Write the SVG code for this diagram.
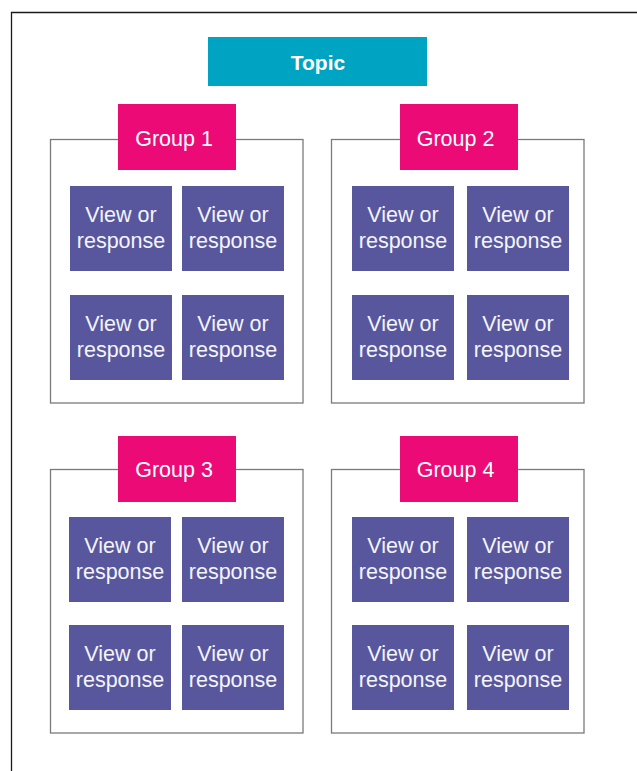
<svg xmlns="http://www.w3.org/2000/svg" width="637" height="771" viewBox="0 0 637 771">
  <style>
    .frame { fill: none; stroke: #1a1a1a; stroke-width: 1.3; }
    .grpbox { fill: #ffffff; stroke: #7a7a7a; stroke-width: 1.3; }
    .topic { fill: #00a4c3; }
    .head { fill: #ec0a77; }
    .card { fill: #58579e; }
    text { font-family: "Liberation Sans", Arial, Helvetica, sans-serif; fill: #f4f4fa; text-anchor: middle; }
    .t-topic { font-size: 21px; font-weight: bold; fill: #ffffff; }
    .t-head { font-size: 21.5px; fill: #ffffff; }
    .t-card { font-size: 21.5px; }
  </style>
  <defs>
    <g id="card">
      <rect class="card" x="0" y="0" width="102" height="85"/>
      <text class="t-card" x="51" y="36">View or</text>
      <text class="t-card" x="51" y="62">response</text>
    </g>
  </defs>

  <!-- page frame -->
  <path class="frame" d="M11.5,771 V12.5 H637"/>

  <g id="topic">
    <rect class="topic" x="208" y="37" width="219" height="49"/>
    <text class="t-topic" x="318" y="70">Topic</text>
  </g>

  <g id="connectors"/>

  <g id="group1">
    <rect class="grpbox" x="50.5" y="139.5" width="252.5" height="263.5"/>
    <rect class="head" x="118" y="104" width="118" height="66"/>
    <text class="t-head" x="174" y="145.5">Group 1</text>
    <use href="#card" x="70" y="186"/>
    <use href="#card" x="182" y="186"/>
    <use href="#card" x="70" y="295"/>
    <use href="#card" x="182" y="295"/>
  </g>

  <g id="group2">
    <rect class="grpbox" x="331.5" y="139.5" width="252.5" height="263.5"/>
    <rect class="head" x="400" y="104" width="118" height="66"/>
    <text class="t-head" x="455.5" y="145.5">Group 2</text>
    <use href="#card" x="352" y="186"/>
    <use href="#card" x="467" y="186"/>
    <use href="#card" x="352" y="295"/>
    <use href="#card" x="467" y="295"/>
  </g>

  <g id="group3">
    <rect class="grpbox" x="50.5" y="469.5" width="252.5" height="263.5"/>
    <rect class="head" x="118" y="436" width="118" height="66"/>
    <text class="t-head" x="174" y="476.5">Group 3</text>
    <use href="#card" x="69" y="517"/>
    <use href="#card" x="182" y="517"/>
    <use href="#card" x="69" y="625"/>
    <use href="#card" x="182" y="625"/>
  </g>

  <g id="group4">
    <rect class="grpbox" x="331.5" y="469.5" width="252.5" height="263.5"/>
    <rect class="head" x="400" y="436" width="118" height="66"/>
    <text class="t-head" x="455.5" y="476.5">Group 4</text>
    <use href="#card" x="352" y="517"/>
    <use href="#card" x="467" y="517"/>
    <use href="#card" x="352" y="625"/>
    <use href="#card" x="467" y="625"/>
  </g>
</svg>
